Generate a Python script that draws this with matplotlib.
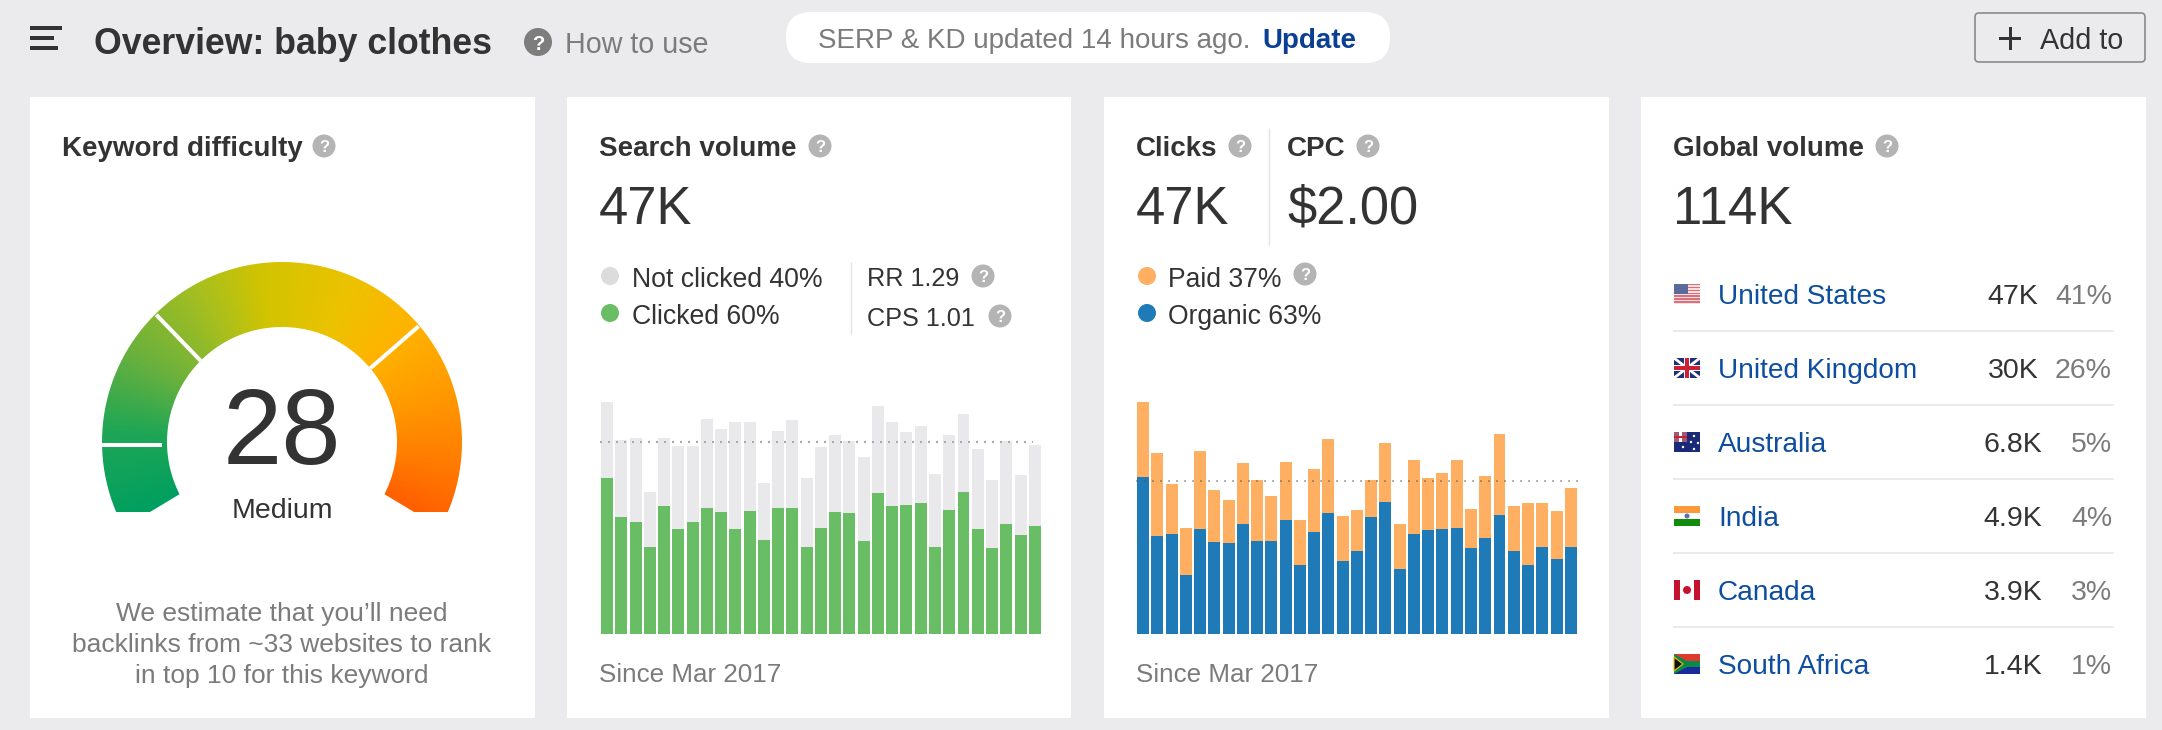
import numpy as np
import matplotlib
matplotlib.use('Agg')
from matplotlib import pyplot as plt
from matplotlib import patches
from matplotlib.path import Path
from matplotlib.colors import LinearSegmentedColormap

plt.rcParams['font.family'] = ['Liberation Sans', 'DejaVu Sans']

# search volume, thousands per month
volume_total = [56.8, 47.5, 48.0, 34.7, 48.0, 45.9, 46.1, 52.6, 50.3, 51.9, 51.9, 37.0, 49.8, 52.4, 38.3, 45.7,
                48.7, 47.3, 43.3, 55.8, 51.9, 49.4, 50.9, 39.2, 48.6, 53.9, 45.3, 37.7, 47.2, 38.9, 46.3]
volume_clicked = [38.2, 28.6, 27.4, 21.3, 31.3, 25.8, 27.4, 30.8, 29.9, 25.8, 30.1, 23.0, 30.8, 30.8, 21.3, 25.9,
                  29.9, 29.5, 22.8, 34.4, 31.3, 31.5, 32.1, 21.3, 30.4, 34.8, 25.6, 21.1, 26.9, 24.2, 26.4]
# clicks, thousands per month
clicks_organic = [48.2, 30.2, 30.8, 18.2, 32.4, 28.4, 28.1, 33.8, 28.7, 28.7, 35.1, 21.2, 31.2, 37.1, 22.3, 25.6,
                  36.0, 40.7, 20.0, 30.8, 32.1, 32.3, 32.7, 26.4, 29.6, 36.5, 25.4, 21.3, 26.8, 23.1, 26.8]
clicks_paid = [23.2, 25.3, 15.4, 14.3, 23.8, 15.7, 13.1, 18.7, 18.6, 13.6, 17.6, 13.9, 19.5, 22.7, 14.1, 12.5,
               11.3, 17.9, 13.8, 22.7, 15.9, 17.2, 20.7, 11.9, 19.0, 24.9, 14.0, 18.8, 13.3, 14.6, 18.2]
average_k = 47

countries = ['United States', 'United Kingdom', 'Australia', 'India', 'Canada', 'South Africa']
country_volume = ['47K', '30K', '6.8K', '4.9K', '3.9K', '1.4K']
country_share = ['41%', '26%', '5%', '4%', '3%', '1%']

W, H = 2162, 730
BG = '#ebebed'
DARK = '#333333'
GREY = '#7b7b7b'
LINK = '#0d4ea0'

fig = plt.figure(figsize=(W / 100, H / 100), dpi=100, facecolor=BG)
ax = fig.add_axes([0, 0, 1, 1])
ax.set_xlim(0, W)
ax.set_ylim(H, 0)
ax.axis('off')


def label(x, y, s, size=19, color=DARK, weight='normal', ha='left'):
    ax.text(x, y, s, fontsize=size, color=color, fontweight=weight, ha=ha, va='center_baseline', zorder=5)


def rect(x0, y0, x1, y1, color, z=3):
    ax.add_patch(patches.Rectangle((x0, y0), x1 - x0, y1 - y0, fc=color, ec='none', zorder=z))


def dot(x, y, color, r=9):
    ax.add_patch(patches.Circle((x, y), r, fc=color, ec='none', zorder=4))


def help_icon(x, y, color='#b4b4b4', r=11.5):
    dot(x, y, color, r)
    ax.text(x, y, '?', fontsize=r + 0.5, color='white', fontweight='bold', ha='center', va='center_baseline', zorder=6)


def line(xs, ys, color, lw):
    ax.plot(xs, ys, color=color, lw=lw, solid_capstyle='butt', zorder=4)


# header
for y0, x1 in [(26, 62), (36, 54), (46, 58)]:
    rect(30, y0, x1, y0 + 4, DARK)
label(94, 40, 'Overview: baby clothes', size=25.7, weight='bold')
help_icon(538, 42, color='#7d7d7d', r=14)
label(565, 42, 'How to use', size=20.6, color=GREY)

ax.add_patch(patches.FancyBboxPatch((786, 12), 604, 51, boxstyle='round,pad=0,rounding_size=25',
                                    fc='white', ec='none', zorder=3))
label(818, 38, 'SERP & KD updated 14 hours ago.', size=20, color=GREY)
label(1262, 38, 'Update', size=20, color='#0b3f94', weight='bold')

ax.add_patch(patches.FancyBboxPatch((1975, 13), 170, 49, boxstyle='round,pad=0,rounding_size=4',
                                    fc=BG, ec='#8a8a8a', lw=1.2, zorder=3))
rect(1999, 37, 2021, 40, DARK)
rect(2008.5, 27, 2011.5, 50, DARK)
label(2040, 38, 'Add to', size=20.7)

# cards
for x0, x1 in [(30, 535), (567, 1071), (1104, 1609), (1641, 2146)]:
    rect(x0, 97, x1, 718, 'white', z=1)

# keyword difficulty card
label(62, 146, 'Keyword difficulty', size=20, weight='bold')
help_icon(324, 146)

cx, cy, r_out, r_in = 282, 442, 180, 115
# gauge outline: arc down to the flat cut at y=512 on both sides, then the slanted ends
arc_limit = np.degrees(np.arcsin((512 - cy) / r_out))
ang_out = np.radians(np.linspace(180 + arc_limit, -arc_limit, 200))
ang_in = np.radians(np.linspace(-27, 207, 200))
px = np.r_[cx + r_out * np.cos(ang_out), cx + 132, cx + r_in * np.cos(ang_in), cx - 132]
py = np.r_[cy - r_out * np.sin(ang_out), 512, cy - r_in * np.sin(ang_in), 512]
gauge_path = Path(np.c_[px, py])

gx, gy = np.meshgrid(np.arange(96, 468), np.arange(256, 516))
theta = np.degrees(np.arctan2(cy - gy, gx - cx))
theta = np.where(theta < -90, theta + 360, theta)
gauge_cmap = LinearSegmentedColormap.from_list('gauge', [
    (0.00, '#009f60'), (0.13, '#1fa656'), (0.25, '#6cb13c'), (0.38, '#a8bf1e'), (0.47, '#d2c400'),
    (0.60, '#ecc200'), (0.70, '#ffb400'), (0.82, '#ff9800'), (0.92, '#ff7a00'), (1.00, '#ff5f00')])
img = ax.imshow((207 - theta) / 234, extent=(96, 468, 516, 256), cmap=gauge_cmap, vmin=0, vmax=1,
                aspect='auto', zorder=2, interpolation='bilinear')
clip = patches.PathPatch(gauge_path, transform=ax.transData, fc='none', ec='none')
ax.add_patch(clip)
img.set_clip_path(clip)
ax.set_xlim(0, W)
ax.set_ylim(H, 0)
for a, inner in [(180, 120), (134, 117), (41, 117)]:
    t = np.radians(a)
    line([cx + inner * np.cos(t), cx + (r_out + 1) * np.cos(t)],
         [cy + 3 - inner * np.sin(t), cy + 3 - (r_out + 1) * np.sin(t)], 'white', 2.9)

ax.text(282, 436, '28', fontsize=76.7, color=DARK, ha='center', va='center', zorder=5)
label(282, 508, 'Medium', size=20.5, ha='center')
for y, s in zip([612, 643, 673], ['We estimate that you\u2019ll need', 'backlinks from ~33 websites to rank',
                                  'in top 10 for this keyword']):
    label(282, y, s, size=19, color=GREY, ha='center')

# search volume card
label(599, 146, 'Search volume', size=20, weight='bold')
help_icon(820, 146)
label(599, 204, '47K', size=37.8)
dot(610, 276, '#dcdcdc')
dot(610, 313, '#69bd65')
label(632, 277, 'Not clicked 40%', size=19.2)
label(632, 314, 'Clicked 60%', size=19.2)
line([851, 851], [262, 334], '#e2e2e2', 1)
label(867, 277, 'RR 1.29', size=18.2)
label(867, 316, 'CPS 1.01', size=18.2)
help_icon(983, 276)
help_icon(1000, 316)
label(599, 673, 'Since Mar 2017', size=18.7, color=GREY)

# clicks / cpc card
label(1136, 146, 'Clicks', size=20, weight='bold')
help_icon(1240, 146)
line([1269, 1269], [128, 245], '#e2e2e2', 1)
label(1287, 146, 'CPC', size=20, weight='bold')
help_icon(1368, 146)
label(1136, 204, '47K', size=37.8)
label(1287, 204, '$2.00', size=37.8)
dot(1147, 276, '#ffaf61')
dot(1147, 313, '#1f7ab8')
label(1168, 277, 'Paid 37%', size=19.1)
label(1168, 314, 'Organic 63%', size=19.1)
help_icon(1305, 274)
label(1136, 673, 'Since Mar 2017', size=18.7, color=GREY)

# global volume card
label(1673, 146, 'Global volume', size=20, weight='bold')
help_icon(1887, 146)
label(1673, 204, '114K', size=38)


def flag(code, x, y):
    w, h = 26, 20
    def band(v0, v1, color):
        rect(x, y + v0 * h, x + w, y + v1 * h, color, z=4)
    if code == 'United States':
        for i in range(7):
            band(i / 7, (i + 0.5) / 7, '#d9707a')
            band((i + 0.5) / 7, (i + 1) / 7, '#f3dfe0')
        rect(x, y, x + 14, y + 10, '#5a6a9a', z=4)
    elif code == 'United Kingdom':
        band(0, 1, '#1f2f78')
        line([x, x + w], [y, y + h], 'white', 2)
        line([x, x + w], [y + h, y], 'white', 2)
        rect(x + 10, y, x + 16, y + h, 'white', z=4)
        rect(x, y + 7, x + w, y + 13, 'white', z=4)
        rect(x + 11, y, x + 15, y + h, '#cc1f36', z=4)
        rect(x, y + 8, x + w, y + 12, '#cc1f36', z=4)
    elif code == 'Australia':
        band(0, 1, '#1a2a78')
        rect(x, y, x + 13, y + 10, '#9f5a78', z=4)
        rect(x + 5, y, x + 8, y + 10, 'white', z=4)
        rect(x, y + 4, x + 13, y + 6, '#cc1f36', z=4)
        for sx, sy in [(9, 15), (20, 4), (24, 11), (17, 10), (20, 17)]:
            dot(x + sx, y + sy, 'white', 1.2)
    elif code == 'India':
        band(0, 1 / 3, '#ff9a3c')
        band(1 / 3, 2 / 3, 'white')
        band(2 / 3, 1, '#128a0a')
        dot(x + 13, y + 10, '#5a70b0', 2.5)
    elif code == 'Canada':
        band(0, 1, 'white')
        rect(x, y, x + 6, y + h, '#c4122f', z=4)
        rect(x + 20, y, x + 26, y + h, '#c4122f', z=4)
        dot(x + 13, y + 10, '#c4122f', 4)
    else:
        band(0, 1 / 3, '#e03a2e')
        band(1 / 3, 2 / 3, 'white')
        band(2 / 3, 1, '#1a2a9a')
        ax.add_patch(patches.Polygon([(x, y), (x + 13, y + 7), (x + w, y + 7), (x + w, y + 13), (x + 13, y + 13), (x, y + h)],
                                     fc='#0a8a4a', ec='none', zorder=4))
        ax.add_patch(patches.Polygon([(x, y + 3), (x + 9, y + 10), (x, y + 17)], fc='#111111', ec='#f5c400', lw=0.8, zorder=5))


for i, name in enumerate(countries):
    y = 294 + 74 * i
    flag(name, 1674, y - 10)
    label(1718, y, name, size=20.2, color=LINK)
    label(2013, y, country_volume[i], size=20.5, ha='center')
    label(2112, y, country_share[i], size=20.5, color=GREY, ha='right')
    if i < 5:
        line([1673, 2114], [y + 37, y + 37], '#e6e6e8', 1.2)


def bar_axes(center0, top_value):
    # one x unit is one bar slot, 14.26 px wide
    pitch = 14.26
    left = center0 - 0.7 * pitch
    width = 31.4 * pitch
    bar_ax = fig.add_axes([left / W, (H - 634) / H, width / W, 254 / H])
    bar_ax.set_xlim(-0.7, 30.7)
    bar_ax.set_ylim(0, top_value)
    bar_ax.axis('off')
    return bar_ax


x = np.arange(31)

# search volume bars
ax_vol = bar_axes(607, average_k * 254 / 192)
ax_vol.bar(x, volume_total, width=0.84, color='#e9e9ec')
ax_vol.bar(x, volume_clicked, width=0.84, color='#69bd65')
ax_vol.hlines(average_k, -0.5, 29.9, color='#a8a8a8', lw=1.44, linestyle=(0, (1, 3)))

# clicks bars
ax_clk = bar_axes(1143, average_k * 254 / 153)
ax_clk.bar(x, clicks_organic, width=0.84, color='#1f7ab8')
ax_clk.bar(x, clicks_paid, bottom=clicks_organic, width=0.84, color='#ffaf61')
ax_clk.hlines(average_k, -0.5, 30.5, color='#555555', alpha=0.45, lw=1.44, linestyle=(0, (1, 3)))

fig.savefig('out.png', dpi=100, facecolor=BG)
